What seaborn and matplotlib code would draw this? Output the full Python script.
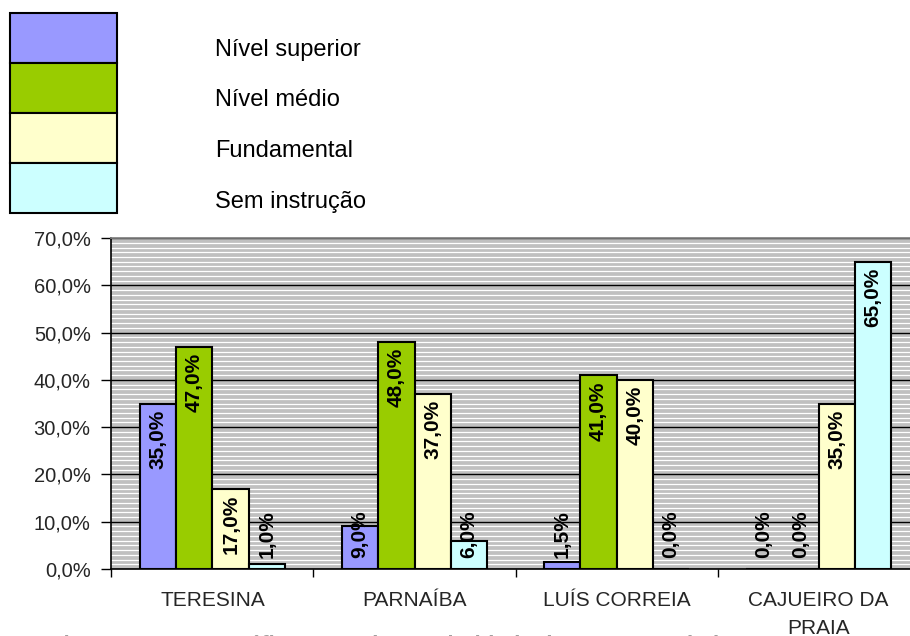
import pandas as pd
import numpy as np
import matplotlib
matplotlib.use("Agg")
import matplotlib.pyplot as plt
import seaborn as sns
from matplotlib.patches import Patch
from matplotlib.ticker import MultipleLocator, FuncFormatter

# =============================================================================
# DATA
# =============================================================================
cities = ["TERESINA", "PARNAÍBA", "LUÍS CORREIA", "CAJUEIRO DA\nPRAIA"]
levels = ["Nível superior", "Nível médio", "Fundamental", "Sem instrução"]
superior = [35.0, 9.0, 1.5, 0.0]
medio = [47.0, 48.0, 41.0, 0.0]
fundamental = [17.0, 37.0, 40.0, 35.0]
sem_instrucao = [1.0, 6.0, 0.0, 65.0]
colors = ["#9999FF", "#99CC00", "#FFFFCC", "#CCFFFF"]
caption = "Figura 6 ADas – Gráfico Grau de escolaridade dos Empreendedores"

rows = []
for lvl, vals in zip(levels, [superior, medio, fundamental, sem_instrucao]):
    for c, v in zip(cities, vals):
        rows.append({"cidade": c, "nivel": lvl, "valor": v})
df = pd.DataFrame(rows)

def pct(v, pos=None):
    return f"{v:.1f}%".replace(".", ",")

# =============================================================================
# PLOT
# =============================================================================
sns.set_theme(style="white")
plt.rcParams["font.family"] = ["Liberation Sans", "DejaVu Sans"]

W, H = 910, 636
fig = plt.figure(figsize=(W / 100, H / 100), dpi=100)
ax = fig.add_axes([0.1225, 0.1053, 0.888, 0.5204])
ax.set_facecolor("#C0C0C0")

sns.barplot(data=df, x="cidade", y="valor", hue="nivel", order=cities,
            hue_order=levels, palette=colors, width=0.72, saturation=1,
            edgecolor="black", linewidth=1.5, legend=False, ax=ax, zorder=3)

# grid: white minor lines each 1%, black major lines each 10%
ax.set_ylim(0, 70)
ax.set_xlim(-0.5, 3.5)
ax.yaxis.set_major_locator(MultipleLocator(10))
ax.yaxis.set_minor_locator(MultipleLocator(1))
ax.yaxis.set_major_formatter(FuncFormatter(pct))
ax.grid(axis="y", which="minor", color="white", linewidth=0.9, zorder=1)
ax.grid(axis="y", which="major", color="black", linewidth=1.0, zorder=2)
ax.set_axisbelow(True)

# category ticks at the boundaries, labels at the centres
ax.set_xticks(np.arange(-0.5, 4.0, 1.0))
ax.set_xticklabels([])
ax.set_xticks(range(len(cities)), minor=True)
ax.set_xticklabels(cities, minor=True, fontsize=15, linespacing=1.55, va="top")
ax.tick_params(axis="x", which="major", direction="out", length=6, width=1, color="black", bottom=True)
ax.tick_params(axis="x", which="minor", length=0, pad=16)
ax.tick_params(axis="y", which="major", direction="out", length=7, width=1, color="black",
               left=True, labelsize=14.5, pad=8)
ax.tick_params(axis="y", which="minor", length=0)
ax.set_xlabel("")
ax.set_ylabel("")

for side in ["left", "bottom"]:
    ax.spines[side].set_color("black")
    ax.spines[side].set_linewidth(1.2)
ax.spines["top"].set_color("#808080")
ax.spines["right"].set_visible(False)

# bar value labels (rotated, bold)
for cont, lvl in zip(ax.containers, levels):
    vals = df[df["nivel"] == lvl]["valor"].values
    for bar, v in zip(cont.patches, vals):
        xc = bar.get_x() + bar.get_width() / 2
        if v >= 15:
            ax.text(xc, v - 1.3, pct(v), rotation=90, ha="center", va="top",
                    fontsize=15, fontweight="bold", color="black", zorder=5)
        else:
            ax.text(xc, 2.4, pct(v), rotation=90, ha="center", va="bottom",
                    fontsize=15, fontweight="bold", color="black", zorder=5)

# legend: stacked boxes, labels set to the right
handles = [Patch(facecolor=c, edgecolor="black", linewidth=1.5) for c in colors]
fig.legend(handles, [""] * len(levels), loc="upper left", bbox_to_anchor=(10 / W, 1 - 13 / H),
           frameon=False, fontsize=15, handlelength=5.15, handleheight=3.315,
           labelspacing=0.0, handletextpad=0, borderpad=0, borderaxespad=0)
for i, lvl in enumerate(levels):
    fig.text(215 / W, 1 - (50 + 50.5 * i) / H, lvl, ha="left", va="center",
             fontsize=17, color="black")

# caption (cut at the bottom of the page)
fig.text(50 / W, 1 - 635.5 / H, caption, ha="left", va="top", fontsize=16,
         fontweight="bold", color="#A0A0A0")

plt.savefig("out.png", dpi=100)
plt.close()
